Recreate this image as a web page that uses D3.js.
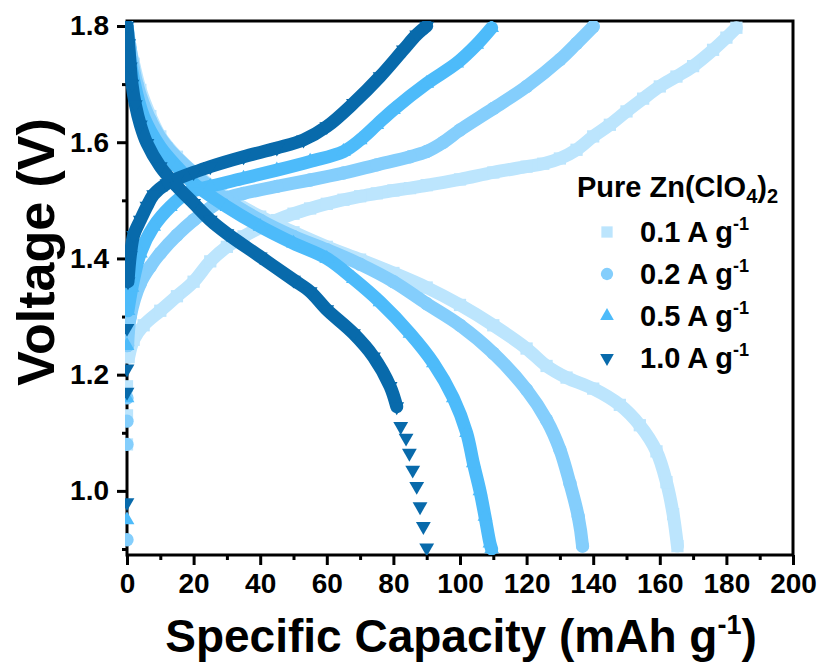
<!DOCTYPE html>
<html>
<head>
<meta charset="utf-8">
<script src="https://cdn.jsdelivr.net/npm/d3@7"></script>
<style>
    body { margin: 0; background: #fff; }
    text { font-family: Arial, "Liberation Sans", sans-serif; font-weight: bold; fill: #000; }
</style>
</head>
<body>
<div id="chart"></div>
<script>
// --- data: [capacity (mAh/g), voltage (V)] ---
const rateNames = ["0.1", "0.2", "0.5", "1.0"];

// sparse first points of each charge step, sitting on the y axis
const chargeHead01 = [[0, 1.08], [0, 1.13], [0, 1.18]];
const chargeHead02 = [[0, 0.916], [0, 1.08], [0, 1.12], [0, 1.16]];
const chargeHead05 = [[0, 0.95], [0, 1.16], [0, 1.25]];
const chargeHead10 = [[0, 0.98], [0, 1.17], [0, 1.21], [0, 1.28]];

const charge01 = [[0.5, 1.23], [2, 1.26], [5, 1.285], [10, 1.31], [15, 1.335], [20, 1.36], [25, 1.395],
    [30, 1.42], [35, 1.438], [40, 1.453], [45, 1.466], [50, 1.477], [55, 1.486], [60, 1.494], [65, 1.501],
    [70, 1.507], [75, 1.512], [80, 1.517], [85, 1.521], [90, 1.526], [100, 1.536], [110, 1.548],
    [120, 1.558], [125, 1.563], [130, 1.572], [135, 1.587], [140, 1.61], [145, 1.63], [150, 1.653],
    [155, 1.675], [160, 1.696], [165, 1.713], [170, 1.731], [176, 1.759], [180, 1.78], [183, 1.797]];
const discharge01 = [[0, 1.8], [0.5, 1.78], [1, 1.76], [2, 1.735], [4, 1.69], [7, 1.645], [10, 1.61],
    [15, 1.575], [20, 1.548], [30, 1.505], [40, 1.472], [50, 1.445], [60, 1.42], [70, 1.398], [80, 1.375],
    [90, 1.35], [100, 1.32], [110, 1.285], [120, 1.245], [126, 1.215], [132, 1.195], [140, 1.176],
    [148, 1.148], [154, 1.113], [159, 1.068], [162, 1.015], [164, 0.96], [165.3, 0.905]];

const charge02 = [[0.2, 1.25], [1, 1.3], [4, 1.357], [7, 1.386], [10, 1.409], [15, 1.44], [20, 1.466],
    [25, 1.487], [30, 1.504], [35, 1.512], [45, 1.524], [55, 1.535], [65, 1.547], [75, 1.561], [85, 1.575],
    [90, 1.584], [95, 1.6], [100, 1.621], [110, 1.658], [120, 1.696], [130, 1.742], [135, 1.77], [140, 1.799]];
const discharge02 = [[0, 1.8], [1, 1.76], [3, 1.7], [7, 1.638], [12, 1.592], [20, 1.547], [30, 1.501],
    [40, 1.466], [50, 1.438], [60, 1.415], [70, 1.39], [80, 1.36], [90, 1.322], [100, 1.285], [110, 1.237],
    [120, 1.174], [126, 1.122], [130, 1.071], [133, 1.013], [135.5, 0.956], [136.8, 0.905]];

const charge05 = [[0.3, 1.31], [1.5, 1.35], [4, 1.409], [8, 1.455], [13, 1.489], [18, 1.512], [25, 1.524],
    [35, 1.538], [45, 1.552], [55, 1.567], [65, 1.584], [70, 1.604], [75, 1.63], [80, 1.656], [90, 1.701],
    [99, 1.736], [105, 1.768], [109.5, 1.797]];
const discharge05 = [[0, 1.8], [0.5, 1.76], [2, 1.707], [5, 1.644], [10, 1.592], [15, 1.558], [20, 1.529],
    [30, 1.489], [40, 1.455], [50, 1.426], [60, 1.4], [68, 1.365], [76, 1.325], [85, 1.271], [92, 1.22],
    [98, 1.16], [102, 1.1], [104, 1.048], [106, 1.0], [107.5, 0.956], [109, 0.91], [109.5, 0.9]];

const charge10 = [[0.3, 1.36], [1, 1.405], [2, 1.44], [4, 1.466], [6, 1.49], [8, 1.51], [12, 1.529],
    [15, 1.537], [20, 1.548], [25, 1.558], [35, 1.575], [45, 1.59], [53, 1.604], [60, 1.627], [68, 1.667],
    [76, 1.713], [83, 1.759], [87, 1.785], [90, 1.8]];
const discharge10 = [[0, 1.8], [0.5, 1.77], [1, 1.73], [1.5, 1.7], [2.5, 1.665], [4, 1.63], [6, 1.598],
    [10, 1.558], [15, 1.524], [20, 1.495], [25, 1.466], [30, 1.443], [40, 1.403], [50, 1.363], [55, 1.343],
    [60, 1.312], [68, 1.271], [74, 1.231], [79, 1.18], [81, 1.145]];
// the widely spaced triangles at the end of the 1.0 A/g discharge
const dischargeTail10 = [[82.2, 1.111], [83.8, 1.091], [84.8, 1.065], [85.8, 1.036], [87, 1.008],
    [88, 0.973], [89, 0.939], [90, 0.902]];

const xTicks = [0, 20, 40, 60, 80, 100, 120, 140, 160, 180, 200];
const xMinorTicks = [10, 30, 50, 70, 90, 110, 130, 150, 170, 190];
const yTicks = [1.0, 1.2, 1.4, 1.6, 1.8];
const yMinorTicks = [0.9, 1.1, 1.3, 1.5, 1.7];

const series = [
    { name: rateNames[0], head: chargeHead01, lines: [charge01, discharge01], tail: [] },
    { name: rateNames[1], head: chargeHead02, lines: [charge02, discharge02], tail: [] },
    { name: rateNames[2], head: chargeHead05, lines: [charge05, discharge05], tail: [] },
    { name: rateNames[3], head: chargeHead10, lines: [charge10, discharge10], tail: dischargeTail10 }
];

// --- styles ---
const colors = ["#bce5fd", "#84cefc", "#4dbbfa", "#086aab"];
const shapes = [
    { type: d3.symbolSquare, size: 150, rot: 0 },
    { type: d3.symbolCircle, size: 140, rot: 0 },
    { type: d3.symbolTriangle, size: 95, rot: 0 },
    { type: d3.symbolTriangle, size: 95, rot: 180 }
];

function drawChart() {
    const svg = d3.select("#chart").append("svg")
        .attr("width", 826)
        .attr("height", 664);

    const frame = { left: 127, right: 793, top: 21, bottom: 555 };

    const x = d3.scaleLinear().domain([0, 200]).range([frame.left, frame.right]);
    const y = d3.scaleLinear().domain([0.9, 1.8]).range([549, 26]);

    // axes (ticks only, frame drawn separately)
    const xAxis = svg.append("g")
        .attr("transform", `translate(0,${frame.bottom})`)
        .call(d3.axisBottom(x).tickValues(xTicks).tickSize(10).tickPadding(8).tickFormat(d3.format("d")));
    const xMinor = svg.append("g")
        .attr("transform", `translate(0,${frame.bottom})`)
        .call(d3.axisBottom(x).tickValues(xMinorTicks).tickSize(5).tickFormat(""));
    const yAxis = svg.append("g")
        .attr("transform", `translate(${frame.left},0)`)
        .call(d3.axisLeft(y).tickValues(yTicks).tickSize(10).tickPadding(8).tickFormat(d3.format(".1f")));
    const yMinor = svg.append("g")
        .attr("transform", `translate(${frame.left},0)`)
        .call(d3.axisLeft(y).tickValues(yMinorTicks).tickSize(5).tickFormat(""));

    [xAxis, xMinor, yAxis, yMinor].forEach(g => {
        g.select(".domain").remove();
        g.selectAll(".tick line").attr("stroke", "#000").attr("stroke-width", 3);
        g.selectAll(".tick text").style("font-size", "28px").style("font-family", "Arial, 'Liberation Sans', sans-serif").style("font-weight", "bold");
    });

    svg.append("rect")
        .attr("x", frame.left)
        .attr("y", frame.top)
        .attr("width", frame.right - frame.left)
        .attr("height", frame.bottom - frame.top)
        .attr("fill", "none")
        .attr("stroke", "#000")
        .attr("stroke-width", 3);

    // data
    svg.append("clipPath").attr("id", "plotClip")
        .append("rect")
        .attr("x", frame.left - 2)
        .attr("y", frame.top)
        .attr("width", frame.right - frame.left + 2)
        .attr("height", frame.bottom - frame.top);

    const plot = svg.append("g").attr("clip-path", "url(#plotClip)");

    const line = d3.line()
        .x(d => x(d[0]))
        .y(d => y(d[1]))
        .curve(d3.curveCatmullRom);

    series.forEach((s, i) => {
        const g = plot.append("g");
        const sym = d3.symbol().type(shapes[i].type).size(shapes[i].size);

        s.lines.forEach(pts => {
            g.append("path")
                .datum(pts)
                .attr("fill", "none")
                .attr("stroke", colors[i])
                .attr("stroke-width", 13)
                .attr("stroke-linecap", "round")
                .attr("stroke-linejoin", "round")
                .attr("d", line);
        });

        const markers = s.head.concat(...s.lines, s.tail);
        g.selectAll("path.marker")
            .data(markers)
            .enter().append("path")
            .attr("class", "marker")
            .attr("d", sym)
            .attr("fill", colors[i])
            .attr("transform", d => `translate(${x(d[0])},${y(d[1])}) rotate(${shapes[i].rot})`);
    });

    // axis titles
    const xt = svg.append("text")
        .attr("x", 461)
        .attr("y", 652)
        .attr("text-anchor", "middle")
        .style("font-size", "46px")
        .text("Specific Capacity (mAh g");
    xt.append("tspan").attr("dy", -18).style("font-size", "27px").text("-1");
    xt.append("tspan").attr("dy", 18).text(")");

    svg.append("text")
        .attr("transform", "translate(54,252) rotate(-90)")
        .attr("text-anchor", "middle")
        .style("font-size", "52px")
        .text("Voltage (V)");

    // legend
    const legend = svg.append("g");
    const title = legend.append("text")
        .attr("x", 577)
        .attr("y", 197)
        .style("font-size", "29px")
        .text("Pure Zn(ClO");
    title.append("tspan").attr("dy", 6).style("font-size", "20px").text("4");
    title.append("tspan").attr("dy", -6).text(")");
    title.append("tspan").attr("dy", 6).style("font-size", "20px").text("2");

    series.forEach((s, i) => {
        const cy = 232 + i * 42;
        legend.append("path")
            .attr("d", d3.symbol().type(shapes[i].type).size(shapes[i].size * 0.85))
            .attr("fill", colors[i])
            .attr("transform", `translate(607,${cy}) rotate(${shapes[i].rot})`);
        const t = legend.append("text")
            .attr("x", 640)
            .attr("y", cy + 10)
            .style("font-size", "29px")
            .text(s.name + " A g");
        t.append("tspan").attr("dy", -12).style("font-size", "18px").text("-1");
    });
}

drawChart();
</script>
</body>
</html>
